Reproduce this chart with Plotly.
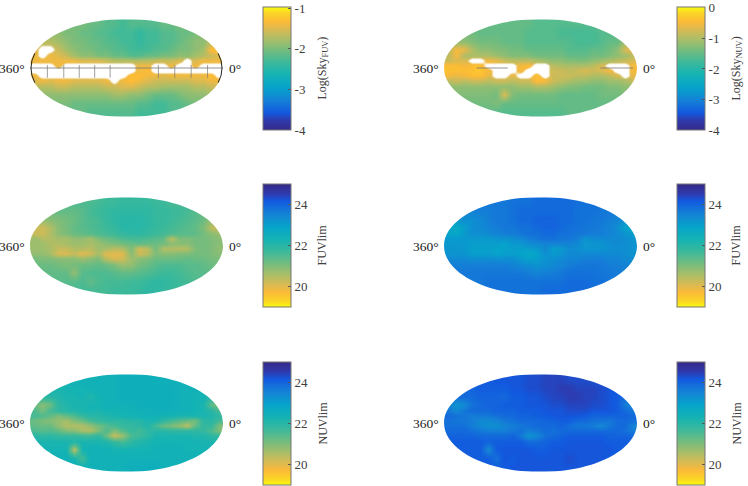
import plotly.graph_objects as go

W, H = 748, 486
N = None

# parula, low to high
PARULA = [[0.0, '#352a87'], [0.08, '#2f3aae'], [0.14, '#1259df'], [0.24, '#1481d6'], [0.35, '#06a4ca'],
          [0.45, '#14b3b4'], [0.55, '#3cb99a'], [0.64, '#6fbc80'], [0.73, '#a5be6a'], [0.82, '#dbba52'],
          [0.88, '#fbba38'], [0.95, '#fbd425'], [1.0, '#f9fb0e']]
PARULA_R = [[round(1 - p, 3), c] for p, c in reversed(PARULA)]
HOLE_SCALE = [[0, 'rgba(255,255,255,0)'], [0.35, 'rgba(255,255,255,0)'], [0.65, 'rgba(255,255,255,1)'], [1, 'rgba(255,255,255,1)']]

# map grid (normalised ellipse coordinates)
GRID_X = [-0.958, -0.875, -0.792, -0.708, -0.625, -0.542, -0.458, -0.375, -0.292, -0.208, -0.125, -0.042,
          0.042, 0.125, 0.208, 0.292, 0.375, 0.458, 0.542, 0.625, 0.708, 0.792, 0.875, 0.958]
GRID_Y = [0.9, 0.72, 0.54, 0.38, 0.26, 0.15, 0.05, -0.05, -0.15, -0.26, -0.38, -0.54, -0.72, -0.9]

SKY_FUV = [
    [-2.0,-2.0,-2.0,-2.0,-2.0,-2.0,-2.0,-2.1,-2.1,-2.2,-2.2,-2.3,-2.2,-2.2,-2.2,-2.2,-2.1,-2.1,-2.0,-2.0,-2.0,-2.0,-2.0,-2.0],
    [-1.9,-1.9,-1.9,-1.9,-2.0,-2.0,-2.1,-2.1,-2.2,-2.2,-2.3,-2.3,-2.3,-2.4,-2.3,-2.3,-2.2,-2.2,-2.1,-2.1,-2.0,-1.9,-1.9,-1.9],
    [-1.7,-1.7,-1.7,-1.8,-1.9,-2.0,-2.0,-2.1,-2.1,-2.2,-2.2,-2.3,-2.3,-2.4,-2.3,-2.3,-2.2,-2.2,-2.1,-2.0,-1.9,-1.9,-1.7,-1.7],
    [-1.5,N,N,-1.6,-1.8,-1.9,-2.0,-2.0,-2.1,-2.1,-2.2,-2.2,-2.3,-2.3,-2.3,-2.2,-2.2,-2.1,-2.0,-2.0,-1.9,-1.8,-1.3,-1.3],
    [-1.4,N,-1.4,-1.5,-1.6,-1.8,-1.9,-1.9,-2.0,-2.0,-2.1,-2.1,-2.2,-2.2,-2.1,-2.1,-2.0,-2.0,-1.9,-1.9,-1.8,-1.7,-1.6,-1.5],
    [-1.4,-1.4,-1.4,-1.4,-1.4,-1.4,-1.5,-1.5,-1.5,-1.6,-1.7,-1.7,-1.7,-1.7,-1.7,-1.6,-1.6,-1.6,-1.5,N,-1.5,-1.4,-1.4,-1.4],
    [N,N,N,-1.4,N,N,N,N,N,N,N,N,N,-1.4,-1.4,N,N,-1.4,N,N,-1.4,N,N,N],
    [N,N,N,N,N,N,N,N,N,N,N,N,N,-1.4,-1.3,N,N,N,N,N,N,N,N,N],
    [-1.4,N,N,N,N,N,N,N,N,N,N,N,-1.3,-1.3,-1.4,-1.4,-1.5,-1.4,-1.4,-1.4,-1.4,-1.4,-1.3,N],
    [-1.5,-1.4,-1.5,-1.4,-1.4,-1.5,-1.5,-1.5,-1.5,-1.4,N,-1.4,-1.3,-1.4,-1.5,-1.6,-1.6,-1.6,-1.6,-1.6,-1.5,-1.5,-1.4,-1.4],
    [-1.7,-1.7,-1.7,-1.6,-1.6,-1.7,-1.7,-1.7,-1.7,-1.6,-1.6,-1.5,-1.5,-1.6,-1.7,-1.7,-1.8,-1.8,-1.8,-1.8,-1.7,-1.7,-1.6,-1.6],
    [-1.9,-1.9,-1.9,-1.9,-1.9,-1.9,-1.9,-1.9,-1.9,-1.9,-1.8,-1.8,-1.9,-1.9,-2.0,-2.1,-2.1,-2.1,-2.0,-1.9,-1.9,-1.9,-1.8,-1.8],
    [-2.0,-2.0,-2.0,-2.0,-2.0,-2.1,-2.1,-2.1,-2.1,-2.1,-2.1,-2.1,-2.1,-2.2,-2.2,-2.3,-2.3,-2.2,-2.2,-2.1,-2.0,-2.0,-2.0,-2.0],
    [-2.1,-2.1,-2.1,-2.1,-2.1,-2.1,-2.1,-2.2,-2.2,-2.2,-2.2,-2.2,-2.2,-2.3,-2.3,-2.3,-2.3,-2.2,-2.2,-2.1,-2.1,-2.1,-2.1,-2.1],
]
SKY_NUV = [
    [-1.5,-1.5,-1.5,-1.5,-1.5,-1.5,-1.5,-1.5,-1.5,-1.5,-1.5,-1.6,-1.6,-1.6,-1.6,-1.6,-1.6,-1.6,-1.6,-1.5,-1.5,-1.5,-1.5,-1.5],
    [-1.4,-1.4,-1.4,-1.4,-1.5,-1.5,-1.5,-1.5,-1.5,-1.5,-1.6,-1.6,-1.6,-1.6,-1.7,-1.7,-1.7,-1.7,-1.7,-1.6,-1.6,-1.5,-1.4,-1.4],
    [-1.2,-1.2,-1.2,-1.3,-1.4,-1.4,-1.4,-1.5,-1.5,-1.5,-1.6,-1.6,-1.6,-1.6,-1.6,-1.6,-1.7,-1.7,-1.7,-1.6,-1.5,-1.5,-1.1,-1.0],
    [-0.9,-0.5,-0.6,-1.0,-1.2,-1.2,-1.3,-1.3,-1.4,-1.4,-1.5,-1.5,-1.5,-1.5,-1.5,-1.6,-1.6,-1.6,-1.5,-1.5,-1.4,-1.2,-0.7,-0.6],
    [-0.9,-0.5,-1.0,-1.0,-1.0,-1.0,-1.1,-1.2,-1.3,-1.3,-1.3,-1.4,-1.4,-1.4,-1.4,-1.5,-1.5,-1.5,-1.4,-1.4,-1.3,-1.2,-1.1,-0.9],
    [-0.8,-0.7,-0.7,N,N,-0.5,-0.6,-0.8,-0.9,-0.9,-0.9,-1.0,-1.1,-1.2,-1.2,-1.3,-1.3,-1.3,-1.2,-1.1,-1.0,-0.9,-0.8,-0.7],
    [-0.4,-0.4,-0.5,-0.4,-0.4,N,N,N,N,-0.5,-0.4,N,N,-0.9,-1.0,-1.0,-1.0,-1.0,-0.9,-0.7,N,N,N,-0.5],
    [-0.4,-0.4,-0.4,-0.4,-0.3,-0.5,N,N,N,-0.5,N,N,N,-0.8,-0.8,-0.9,-0.8,-0.7,-0.8,-0.7,-0.5,N,N,-0.5],
    [-0.5,-0.6,-0.5,-0.4,-0.4,-0.6,N,N,-0.6,N,N,-0.4,N,-0.8,-0.8,-0.8,-0.9,-0.9,-1.0,-1.0,-0.9,-0.7,N,-0.6],
    [-0.9,-0.8,-0.9,-0.8,-0.8,-0.9,-0.8,-0.8,-0.9,-0.8,-0.8,-0.4,-0.5,-0.8,-0.9,-1.0,-1.1,-1.1,-1.2,-1.2,-1.1,-1.1,-1.0,-0.8],
    [-1.2,-1.2,-1.2,-1.2,-1.2,-1.2,-1.2,-1.2,-1.2,-1.1,-1.1,-1.0,-1.0,-1.1,-1.2,-1.3,-1.3,-1.4,-1.4,-1.4,-1.3,-1.3,-1.2,-1.2],
    [-1.3,-1.3,-1.3,-1.3,-1.3,-1.3,-1.4,-0.7,-1.3,-1.4,-1.4,-1.4,-1.4,-1.4,-1.5,-1.5,-1.5,-1.5,-1.5,-1.4,-1.4,-1.4,-1.3,-1.3],
    [-1.4,-1.4,-1.4,-1.4,-1.4,-1.4,-1.3,-1.5,-1.5,-1.5,-1.5,-1.5,-1.5,-1.5,-1.5,-1.5,-1.5,-1.5,-1.5,-1.5,-1.5,-1.4,-1.4,-1.4],
    [-1.5,-1.5,-1.5,-1.5,-1.5,-1.5,-1.6,-1.6,-1.6,-1.6,-1.6,-1.6,-1.6,-1.6,-1.6,-1.5,-1.5,-1.5,-1.5,-1.5,-1.5,-1.5,-1.5,-1.5],
]
FUV_LIM_A = [
    [21.3,21.3,21.3,21.3,21.4,21.5,21.5,21.5,21.6,21.7,21.7,21.8,21.8,21.8,21.8,21.7,21.7,21.6,21.5,21.5,21.4,21.4,21.3,21.3],
    [21.2,21.2,21.2,21.3,21.3,21.3,21.4,21.6,21.7,21.8,21.9,21.9,21.9,21.9,21.9,21.8,21.8,21.7,21.7,21.6,21.4,21.3,21.2,21.2],
    [20.9,20.8,20.9,21.0,21.1,21.2,21.4,21.5,21.6,21.8,21.9,22.0,22.0,22.0,21.9,21.8,21.8,21.7,21.6,21.5,21.4,21.2,20.8,20.6],
    [20.2,20.2,20.5,20.9,21.1,21.3,21.4,21.5,21.6,21.7,21.8,22.0,22.0,22.0,21.9,21.8,21.7,21.6,21.5,21.4,21.3,21.0,20.4,20.2],
    [20.3,20.2,20.5,20.9,21.0,21.2,21.3,21.4,21.5,21.6,21.7,21.8,21.9,21.9,21.8,21.7,21.6,21.5,21.4,21.4,21.3,21.1,20.9,20.7],
    [20.7,20.5,20.5,20.6,20.6,20.8,20.8,20.6,21.0,21.2,21.3,21.5,21.6,21.6,21.5,21.4,21.3,20.4,21.0,21.0,21.1,21.1,21.0,20.9],
    [20.7,20.7,20.5,20.5,20.6,20.7,20.7,20.6,20.7,20.9,21.0,21.1,21.2,21.3,21.2,21.2,21.1,20.9,20.9,20.9,21.1,21.1,21.0,20.9],
    [20.7,20.7,20.6,20.3,20.3,20.5,20.5,20.4,20.7,20.6,20.4,20.5,21.0,20.2,20.4,21.1,20.5,20.5,20.4,20.5,21.0,21.1,21.0,20.8],
    [20.8,20.8,20.6,20.1,20.1,20.3,20.0,20.2,20.6,20.0,20.0,20.0,20.9,20.2,20.4,21.0,20.9,20.9,21.0,21.0,21.1,21.1,21.0,20.9],
    [21.1,21.0,21.0,20.9,20.9,20.9,20.7,20.9,21.0,20.4,20.1,20.2,20.7,20.9,21.0,21.2,21.2,21.2,21.2,21.3,21.2,21.2,21.1,21.0],
    [21.2,21.2,21.2,21.1,21.0,21.1,21.2,21.2,21.3,21.2,21.0,20.7,20.8,21.1,21.2,21.4,21.5,21.5,21.5,21.4,21.4,21.3,21.2,21.2],
    [21.3,21.3,21.3,21.3,21.3,20.8,21.4,21.5,21.5,21.5,21.4,21.3,21.3,21.4,21.5,21.6,21.7,21.7,21.6,21.5,21.4,21.4,21.3,21.3],
    [21.4,21.4,21.4,21.4,21.4,21.4,21.5,21.3,21.5,21.6,21.6,21.6,21.7,21.7,21.8,21.9,21.9,21.8,21.7,21.6,21.5,21.5,21.4,21.4],
    [21.5,21.5,21.5,21.5,21.5,21.5,21.6,21.6,21.6,21.6,21.7,21.7,21.7,21.8,21.9,21.9,21.8,21.7,21.7,21.6,21.6,21.5,21.5,21.5],
]
FUV_LIM_B = [
    [23.6,23.6,23.6,23.6,23.7,23.7,23.7,23.7,23.8,23.8,23.8,23.9,23.9,23.9,23.9,23.9,23.8,23.8,23.8,23.7,23.7,23.6,23.6,23.6],
    [23.5,23.5,23.5,23.6,23.6,23.6,23.7,23.7,23.8,23.9,23.9,23.9,23.9,23.9,23.9,23.9,23.8,23.8,23.8,23.7,23.7,23.6,23.5,23.5],
    [23.2,23.2,23.3,23.3,23.4,23.6,23.7,23.7,23.8,23.9,23.9,24.0,24.0,24.0,23.9,23.9,23.8,23.8,23.7,23.7,23.6,23.5,23.2,23.2],
    [22.8,22.7,23.0,23.3,23.4,23.5,23.6,23.7,23.7,23.8,23.8,23.9,24.0,24.0,23.9,23.8,23.8,23.7,23.7,23.6,23.5,23.3,22.9,22.8],
    [22.9,22.8,23.1,23.3,23.3,23.4,23.5,23.6,23.6,23.7,23.8,23.8,23.9,23.9,23.8,23.8,23.7,23.7,23.6,23.6,23.5,23.4,23.2,23.0],
    [23.1,23.1,23.1,23.1,23.1,23.1,23.2,23.2,23.3,23.4,23.6,23.7,23.8,23.8,23.7,23.7,23.6,23.2,23.4,23.4,23.4,23.4,23.3,23.2],
    [23.1,23.1,23.1,23.0,23.0,23.0,23.0,22.9,23.1,23.1,23.3,23.4,23.5,23.5,23.5,23.5,23.4,23.1,23.2,23.2,23.3,23.4,23.3,23.2],
    [23.2,23.2,23.1,23.0,23.0,23.0,22.9,22.9,23.0,23.0,23.0,23.1,23.4,23.0,23.1,23.4,23.3,23.2,23.2,23.2,23.3,23.3,23.3,23.2],
    [23.2,23.2,23.2,23.0,23.0,23.0,22.9,23.0,23.0,22.9,22.8,22.9,23.3,23.1,23.2,23.4,23.4,23.4,23.4,23.4,23.4,23.4,23.3,23.2],
    [23.4,23.4,23.4,23.3,23.3,23.3,23.3,23.3,23.3,23.1,22.9,23.0,23.2,23.3,23.4,23.5,23.5,23.6,23.6,23.6,23.5,23.5,23.4,23.3],
    [23.6,23.6,23.6,23.6,23.6,23.6,23.6,23.6,23.5,23.4,23.3,23.2,23.3,23.4,23.5,23.6,23.7,23.7,23.7,23.7,23.6,23.6,23.5,23.5],
    [23.7,23.7,23.7,23.7,23.7,23.7,23.7,23.7,23.7,23.7,23.6,23.5,23.6,23.6,23.7,23.8,23.8,23.8,23.8,23.7,23.7,23.6,23.6,23.6],
    [23.7,23.7,23.7,23.7,23.7,23.8,23.8,23.8,23.8,23.8,23.8,23.8,23.8,23.8,23.8,23.9,23.9,23.9,23.8,23.8,23.7,23.7,23.7,23.7],
    [23.8,23.8,23.8,23.8,23.8,23.8,23.8,23.8,23.8,23.8,23.8,23.8,23.9,23.9,23.9,23.9,23.9,23.9,23.8,23.8,23.8,23.8,23.8,23.8],
]
NUV_LIM_A = [
    [22.3,22.3,22.3,22.3,22.3,22.4,22.4,22.4,22.4,22.4,22.4,22.5,22.5,22.5,22.5,22.5,22.5,22.4,22.4,22.4,22.4,22.3,22.3,22.3],
    [22.2,22.2,22.2,22.2,22.3,22.3,22.3,22.4,22.4,22.4,22.4,22.5,22.5,22.5,22.5,22.5,22.5,22.5,22.4,22.4,22.4,22.3,22.2,22.2],
    [22.0,22.0,22.0,22.1,22.2,22.2,22.3,22.1,22.3,22.4,22.4,22.5,22.5,22.5,22.5,22.5,22.5,22.5,22.4,22.4,22.3,22.3,22.0,21.9],
    [21.2,20.9,21.2,21.9,22.1,22.2,22.2,22.3,22.3,22.4,22.4,22.4,22.4,22.5,22.5,22.5,22.5,22.5,22.4,22.4,22.3,22.2,21.3,21.0],
    [21.5,21.1,21.6,21.9,22.0,22.1,22.2,22.2,22.2,22.3,22.3,22.3,22.4,22.4,22.4,22.5,22.5,22.4,22.4,22.4,22.3,22.2,22.0,21.5],
    [21.6,21.5,21.3,21.0,21.3,21.5,21.8,22.0,22.0,22.1,22.2,22.3,22.3,22.4,22.4,22.4,22.3,22.3,22.2,22.2,22.2,22.2,22.1,21.9],
    [21.2,21.0,20.9,20.8,20.6,21.0,21.2,21.6,21.8,21.9,21.9,21.9,22.0,22.0,22.2,22.2,21.9,21.6,21.4,21.2,21.1,21.9,22.0,21.6],
    [21.3,21.2,21.2,20.8,20.5,20.5,20.5,20.8,21.1,21.4,21.6,21.8,21.8,21.9,22.1,21.6,21.2,21.0,20.8,20.4,21.3,21.8,21.8,21.0],
    [21.5,21.4,21.5,21.3,21.0,20.9,20.6,20.5,21.0,21.5,21.0,21.4,21.8,21.6,21.9,22.0,22.0,21.9,21.9,21.9,21.9,21.8,21.5,21.0],
    [22.0,21.9,21.9,21.8,21.8,21.8,21.7,21.7,21.9,21.2,20.3,20.7,21.5,21.7,21.9,22.2,22.2,22.2,22.2,22.2,22.1,22.1,21.9,21.8],
    [22.2,22.2,22.2,22.2,22.2,22.1,22.2,22.2,22.2,22.1,21.8,21.6,21.9,22.1,22.2,22.3,22.3,22.3,22.3,22.3,22.3,22.2,22.2,22.2],
    [22.3,22.3,22.3,22.3,22.3,20.4,22.3,22.4,22.4,22.4,22.3,22.3,22.3,22.3,22.3,22.4,22.4,22.4,22.4,22.3,22.3,22.3,22.3,22.3],
    [22.4,22.4,22.4,22.4,22.4,22.3,21.6,22.4,22.4,22.4,22.4,22.4,22.4,22.4,22.4,22.4,22.4,22.4,22.4,22.4,22.4,22.4,22.4,22.4],
    [22.4,22.4,22.4,22.4,22.4,22.4,22.4,22.4,22.4,22.4,22.4,22.4,22.5,22.5,22.5,22.5,22.4,22.4,22.4,22.4,22.4,22.4,22.4,22.4],
]
NUV_LIM_B = [
    [24.1,24.1,24.1,24.1,24.1,24.1,24.2,24.2,24.2,24.2,24.3,24.3,24.4,24.4,24.4,24.3,24.3,24.3,24.2,24.2,24.2,24.1,24.1,24.1],
    [24.0,24.0,24.0,24.0,24.1,24.1,24.1,24.1,24.2,24.2,24.3,24.3,24.4,24.4,24.5,24.5,24.4,24.4,24.4,24.3,24.2,24.1,24.0,24.0],
    [23.9,23.9,23.9,23.9,24.0,24.0,24.0,23.9,24.1,24.1,24.2,24.2,24.3,24.4,24.4,24.5,24.5,24.4,24.4,24.3,24.2,24.1,23.9,23.8],
    [23.5,23.2,23.4,23.8,23.9,24.0,24.0,24.1,24.1,24.1,24.2,24.2,24.2,24.3,24.3,24.4,24.4,24.4,24.3,24.3,24.2,24.1,23.6,23.5],
    [23.7,23.4,23.7,23.9,23.9,23.9,24.0,24.0,24.0,24.1,24.1,24.1,24.2,24.2,24.2,24.3,24.3,24.3,24.2,24.2,24.2,24.1,23.9,23.7],
    [23.9,23.8,23.7,23.6,23.7,23.7,23.8,23.9,23.9,24.0,24.0,24.1,24.1,24.2,24.2,24.2,24.2,24.1,24.0,24.0,24.0,24.0,24.0,23.9],
    [23.8,23.7,23.7,23.6,23.4,23.4,23.5,23.7,23.8,23.9,23.9,23.9,24.0,24.0,24.1,24.1,23.9,23.9,23.8,23.8,23.7,23.9,23.9,23.8],
    [23.8,23.8,23.8,23.6,23.4,23.3,23.3,23.5,23.6,23.7,23.8,23.9,23.9,23.9,24.0,23.8,23.7,23.7,23.6,23.4,23.7,23.9,23.9,23.5],
    [23.9,23.9,23.9,23.8,23.7,23.6,23.6,23.6,23.7,23.8,23.6,23.7,23.9,23.8,23.9,23.9,23.9,23.9,23.9,23.9,23.9,23.9,23.8,23.6],
    [24.0,24.0,24.0,24.0,23.9,23.9,23.9,23.9,24.0,23.7,23.2,23.4,23.8,23.9,24.0,24.1,24.1,24.1,24.1,24.1,24.0,24.0,24.0,23.9],
    [24.1,24.1,24.1,24.1,24.1,24.0,24.1,24.1,24.1,24.1,23.9,23.9,24.0,24.1,24.1,24.2,24.2,24.2,24.2,24.2,24.1,24.1,24.1,24.1],
    [24.1,24.1,24.1,24.1,24.1,23.4,24.1,24.2,24.2,24.2,24.2,24.1,24.1,24.2,24.2,24.2,24.2,24.2,24.2,24.2,24.2,24.1,24.1,24.1],
    [24.1,24.1,24.1,24.1,24.1,24.1,23.8,24.2,24.1,24.2,24.2,24.2,24.2,24.2,24.2,24.3,24.2,24.2,24.2,24.2,24.1,24.1,24.1,24.1],
    [24.1,24.1,24.1,24.1,24.1,24.1,24.1,24.1,24.2,24.2,24.2,24.2,24.2,24.2,24.2,24.2,24.2,24.2,24.2,24.1,24.1,24.1,24.1,24.1],
]

SKY_FUV_TICKS = [-1, -2, -3, -4]
SKY_NUV_TICKS = [0, -1, -2, -3, -4]
LIM_TICKS = [20, 22, 24]
LEFT_LABEL = '360°'
RIGHT_LABEL = '0°'

PANELS = [
    dict(z=SKY_FUV, col=0, row=0, zmin=-4, zmax=-0.97, scale=PARULA, ticks=SKY_FUV_TICKS, title='Log(Sky<sub>FUV</sub>)'),
    dict(z=SKY_NUV, col=1, row=0, zmin=-4, zmax=0.03, scale=PARULA, ticks=SKY_NUV_TICKS, title='Log(Sky<sub>NUV</sub>)'),
    dict(z=FUV_LIM_A, col=0, row=1, zmin=19, zmax=25, scale=PARULA_R, ticks=LIM_TICKS, title='FUVlim'),
    dict(z=FUV_LIM_B, col=1, row=1, zmin=19, zmax=25, scale=PARULA_R, ticks=LIM_TICKS, title='FUVlim'),
    dict(z=NUV_LIM_A, col=0, row=2, zmin=19, zmax=25, scale=PARULA_R, ticks=LIM_TICKS, title='NUVlim'),
    dict(z=NUV_LIM_B, col=1, row=2, zmin=19, zmax=25, scale=PARULA_R, ticks=LIM_TICKS, title='NUVlim'),
]

MAP_LEFT = [30, 444]
MAP_TOP = [19, 197, 374]
MAP_W, MAP_H = 193, 98
CB_LEFT = [263, 677]
CB_TOP = [7, 184, 362]
CB_W, CB_LEN = 28, 123

K = 0.5523
ELLIPSE = (f'M -1 0 C -1 {K} {-K} 1 0 1 C {K} 1 1 {K} 1 0 '
           f'C 1 {-K} {K} -1 0 -1 C {-K} -1 -1 {-K} -1 0 Z')
MASK = 'M -1.02 -1.02 L 1.02 -1.02 L 1.02 1.02 L -1.02 1.02 Z ' + ELLIPSE

# graticule pieces that show through the data holes
FUV_MERIDIANS = [-0.82, -0.65, -0.49, -0.33, -0.17, 0.33, 0.5, 0.67, 0.84]
NUV_EQUATOR = [(-0.66, -0.34), (0.62, 0.96)]


def grat_line(xref, yref, x0, x1, y0, y1, color='#777777', width=0.7):
    return dict(type='line', x0=x0, x1=x1, y0=y0, y1=y1, xref=xref, yref=yref,
                line=dict(color=color, width=width), layer='above')


FONT = 'Liberation Serif'
fig = go.Figure()
layout = {}
shapes, annotations = [], []

for n, p in enumerate(PANELS, start=1):
    left, top = MAP_LEFT[p['col']], MAP_TOP[p['row']]
    cb_left, cb_top = CB_LEFT[p['col']], CB_TOP[p['row']]
    ax = '' if n == 1 else str(n)
    xref, yref = f'x{ax}', f'y{ax}'

    fig.add_trace(go.Heatmap(
        x=GRID_X, y=GRID_Y, z=p['z'], xaxis=xref, yaxis=yref,
        zmin=p['zmin'], zmax=p['zmax'], colorscale=p['scale'], zsmooth='best',
        connectgaps=True,
        colorbar=dict(
            x=cb_left / W, xanchor='left', xpad=0,
            y=1 - (cb_top + CB_LEN / 2) / H, yanchor='middle', ypad=0,
            thicknessmode='pixels', thickness=CB_W, lenmode='pixels', len=CB_LEN,
            tickmode='array', tickvals=p['ticks'], ticktext=[str(t) for t in p['ticks']],
            ticks='inside', ticklen=3, tickwidth=1, tickcolor='#555555',
            outlinecolor='#777777', outlinewidth=1, borderwidth=0,
            tickfont=dict(family=FONT, size=13, color='#404040'),
        ),
    ))
    if p['row'] == 0:
        # saturated pixels are blank in the map: white layer with soft edges
        holes = [[1 if v is None else 0 for v in row] for row in p['z']]
        fig.add_trace(go.Heatmap(
            x=GRID_X, y=GRID_Y, z=holes, xaxis=xref, yaxis=yref, zmin=0, zmax=1,
            colorscale=HOLE_SCALE, zsmooth='best', showscale=False, hoverinfo='skip',
        ))
    layout[f'xaxis{ax}'] = dict(domain=[left / W, (left + MAP_W) / W], range=[-1, 1], visible=False, fixedrange=True)
    layout[f'yaxis{ax}'] = dict(domain=[1 - (top + MAP_H) / H, 1 - top / H], range=[-1, 1], visible=False, fixedrange=True)

    # white surround gives the ellipse its outline
    shapes.append(dict(type='path', path=MASK, xref=xref, yref=yref, fillcolor='white',
                       line=dict(width=0), layer='above'))
    if n == 1:
        shapes.append(grat_line(xref, yref, -1, 1, 0, 0, color='#777777', width=0.8))
        for k in FUV_MERIDIANS:
            shapes.append(grat_line(xref, yref, k, k, 0.06, -0.2))
        for s in (-1, 1):
            shapes.append(dict(type='path', xref=xref, yref=yref, layer='above',
                               path=f'M {s*0.95} 0.3 Q {s*1.03} 0 {s*0.95} -0.3',
                               line=dict(color='#222222', width=1)))
    if n == 2:
        for x0, x1 in NUV_EQUATOR:
            shapes.append(grat_line(xref, yref, x0, x1, 0, 0, color='#777777', width=0.8))

    mid_y = 1 - (top + MAP_H / 2) / H
    annotations.append(dict(text=LEFT_LABEL, x=(left - 3) / W, y=mid_y, xref='paper', yref='paper',
                            xanchor='right', yanchor='middle', showarrow=False,
                            font=dict(family=FONT, size=13.5, color='#1a1a1a')))
    annotations.append(dict(text=RIGHT_LABEL, x=(left + MAP_W + 4) / W, y=mid_y, xref='paper', yref='paper',
                            xanchor='left', yanchor='middle', showarrow=False,
                            font=dict(family=FONT, size=13.5, color='#1a1a1a')))
    annotations.append(dict(text=p['title'], x=(cb_left + 59) / W, y=1 - (cb_top + CB_LEN / 2) / H,
                            xref='paper', yref='paper', xanchor='center', yanchor='middle',
                            textangle=-90, showarrow=False,
                            font=dict(family=FONT, size=12, color='#404040')))

fig.update_layout(
    width=W, height=H, margin=dict(l=0, r=0, t=0, b=0),
    paper_bgcolor='white', plot_bgcolor='white', showlegend=False,
    shapes=shapes, annotations=annotations, **layout,
)
# page default margin would push the figure 8px in
fig.write_html("out.html", config=dict(displayModeBar=False),
               post_script="document.body.style.margin='0';document.body.style.overflow='hidden';")
